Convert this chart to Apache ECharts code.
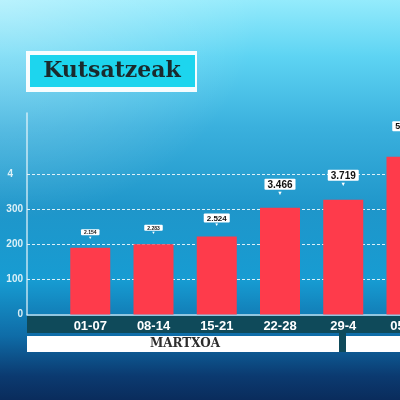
<!DOCTYPE html>
<html>
<head>
<meta charset="utf-8">
<script src="https://cdn.jsdelivr.net/npm/echarts@6/dist/echarts.min.js"></script>
<style>
  html, body { margin: 0; padding: 0; }
  body {
    width: 400px; height: 400px; overflow: hidden;
    background:
      radial-gradient(ellipse 260px 220px at 0px 0px, rgba(255,255,255,0.35) 0%, rgba(255,255,255,0) 100%),
      linear-gradient(180deg, #94ebfc 0%, #5ed4f3 14%, #3ab0dd 32%, #1f96ca 52%, #179cd2 70%, #0f6ca7 84%, #0b3a70 94%, #0a2c5c 100%);
  }
  #chart { width: 400px; height: 400px; }
</style>
</head>
<body>
<div id="chart"></div>
<script>
// weeks (first slot is empty, the axis starts half a step before 01-07)
var categories = ['', '01-07', '08-14', '15-21', '22-28', '29-4', '05-11'];
// bar heights
var barValues = [null, 191, 201, 223, 305, 328, 451];
// numbers printed in the callouts
var barLabels = ['', '2.154', '2.283', '2.524', '3.466', '3.719', '5.024'];
var yTickLabels = ['0', '100', '200', '300', '4', ''];
var months = ['MARTXOA'];
var title = 'Kutsatzeak';

// callouts grow from left to right in the frame
var labelSizes = [0, 5, 5, 8, 10, 10, 9];
var labelGaps = [0, 8, 9, 9, 12, 13, 20];

var chart = echarts.init(document.getElementById('chart'));

var data = barValues.map(function (v, i) {
  if (v == null) return '-';
  var s = labelSizes[i];
  return {
    value: v,
    label: {
      show: true,
      position: 'top',
      distance: labelGaps[i],
      formatter: '{b|' + barLabels[i] + '}\n{t|▼}',
      rich: {
        b: {
          backgroundColor: '#ffffff',
          color: '#111',
          fontWeight: 'bold',
          fontFamily: 'Liberation Sans',
          fontSize: s,
          lineHeight: s + 2,
          padding: [1, 3, 0, 3],
          borderRadius: 1
        },
        t: {
          color: '#ffffff',
          fontSize: Math.max(4, s * 0.55),
          lineHeight: Math.max(4, s * 0.55),
          align: 'center'
        }
      }
    }
  };
});

var white = 'rgba(255,255,255,0.85)';

chart.setOption({
  animation: false,
  grid: { left: 27, right: -6.5, top: 113, bottom: 85.5, outerBoundsMode: 'none', containLabel: false },
  xAxis: {
    type: 'category',
    data: categories,
    boundaryGap: false,
    axisLine: { show: true, lineStyle: { color: 'rgba(230,245,250,0.8)', width: 1.5 } },
    axisTick: { show: false },
    axisLabel: {
      color: '#ffffff',
      fontFamily: 'Liberation Sans',
      fontWeight: 'bold',
      fontSize: 13,
      margin: 5
    }
  },
  yAxis: {
    type: 'value',
    min: 0,
    max: 576,
    interval: 100,
    axisLine: { show: true, lineStyle: { color: 'rgba(235,248,252,0.8)', width: 1.5 } },
    axisTick: { show: false },
    axisLabel: {
      color: 'rgba(240,250,252,0.9)',
      fontFamily: 'Liberation Sans',
      fontWeight: 'bold',
      fontSize: 10,
      margin: 4,
      formatter: function (v, i) {
        var t = yTickLabels[i] || '';
        return i === 4 ? '{p|' + t + '}' : t;
      },
      rich: {
        p: {
          color: 'rgba(240,250,252,0.9)',
          fontFamily: 'Liberation Sans',
          fontWeight: 'bold',
          fontSize: 10,
          padding: [0, 10, 0, 0]
        }
      }
    },
    splitLine: {
      show: true,
      lineStyle: {
        color: ['rgba(0,0,0,0)', white, white, white, white, 'rgba(0,0,0,0)'],
        type: [3, 2],
        width: 1
      }
    }
  },
  series: [{
    type: 'bar',
    data: data,
    barWidth: 40,
    itemStyle: { color: '#fe3b4b' },
    z: 3
  }],
  graphic: [
    // dark band under week labels
    { type: 'rect', z: -1, shape: { x: 27, y: 316, width: 373, height: 17 }, style: { fill: '#0f4a5a' } },
    // month strips
    { type: 'rect', z: 1, shape: { x: 27, y: 336, width: 312, height: 16 }, style: { fill: '#ffffff' } },
    { type: 'rect', z: 1, shape: { x: 339, y: 333, width: 7, height: 19 }, style: { fill: '#0f4a5a' } },
    { type: 'rect', z: 1, shape: { x: 346, y: 336, width: 60, height: 16 }, style: { fill: '#ffffff' } },
    { type: 'text', z: 2, x: 185, y: 344, style: {
        text: months[0], fill: '#2d2d2d', font: 'bold 12px "DejaVu Serif"',
        textAlign: 'center', textVerticalAlign: 'middle' } },
    // title box
    { type: 'rect', z: 1, shape: { x: 26, y: 51, width: 171, height: 41 }, style: { fill: 'rgba(255,255,255,0.95)' } },
    { type: 'rect', z: 1, shape: { x: 30, y: 55, width: 165, height: 32 }, style: { fill: '#1dd5ee' } },
    { type: 'text', z: 2, x: 112, y: 71, style: {
        text: title, fill: '#1a2a2d', font: 'bold 22px "DejaVu Serif"',
        textAlign: 'center', textVerticalAlign: 'middle' } }
  ]
});
</script>
</body>
</html>
